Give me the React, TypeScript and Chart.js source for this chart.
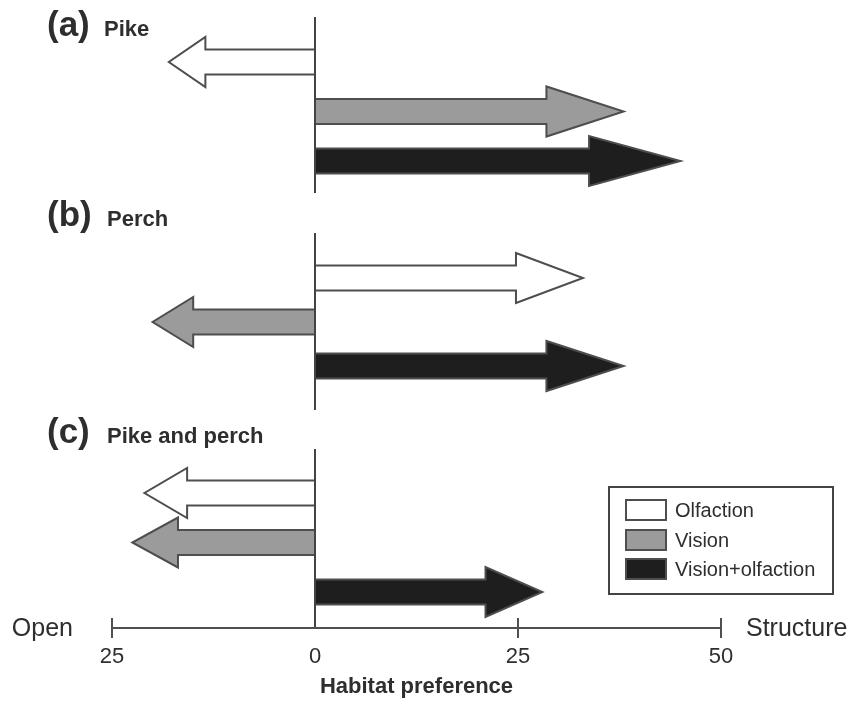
import React, { useEffect, useRef } from 'react';
import { Chart, registerables } from 'chart.js';

Chart.register(...registerables);

// ---------- data ----------
const CUES = ['Olfaction', 'Vision', 'Vision+olfaction'];
const PIKE = [-18, 38, 45];
const PERCH = [33, -20, 38];
const PIKE_AND_PERCH = [-21, -22.5, 28];
const X_TICKS = [-25, 0, 25, 50];
const PANEL_LETTERS = ['(a)', '(b)', '(c)'];
const PANEL_NAMES = ['Pike', 'Perch', 'Pike and perch'];
const PANEL_VALUES = [PIKE, PERCH, PIKE_AND_PERCH];
const AXIS_TITLE = 'Habitat preference';
const LEFT_END_LABEL = 'Open';
const RIGHT_END_LABEL = 'Structure';

// ---------- styles ----------
const FILLS = ['#ffffff', '#9b9b9b', '#1e1e1e'];
const OUTLINE = '#4e4e4e';
const TEXT = '#2e2e2e';
const FONT = '"Liberation Sans", Arial, Helvetica, sans-serif';
const W = 853;
const PLOT_LEFT = 112;
const PLOT_RIGHT = 721;

// page-coordinate layout of each panel
const LAYOUT = [
  { top: 0, height: 200, areaTop: 37.25, areaBottom: 185.75, lineTop: 17, lineBottom: 193, titleY: 36, axis: false },
  { top: 195, height: 220, areaTop: 256, areaBottom: 388, lineTop: 233, lineBottom: 410, titleY: 226, axis: false },
  { top: 415, height: 289, areaTop: 468.25, areaBottom: 616.75, lineTop: 449, lineBottom: 628, titleY: 443, axis: true },
];

const arrowPlugin = {
  id: 'arrows',
  beforeDatasetDraw(chart: any, args: any) {
    const ctx = chart.ctx;
    args.meta.data.forEach((el: any, i: number) => {
      const { x, y, base, height } = el.getProps(['x', 'y', 'base', 'height'], true);
      const len = x - base;
      const hx = x - len * 0.25;
      const s = height / 2;
      const hh = height;
      ctx.save();
      ctx.beginPath();
      ctx.moveTo(base, y - s);
      ctx.lineTo(hx, y - s);
      ctx.lineTo(hx, y - hh);
      ctx.lineTo(x, y);
      ctx.lineTo(hx, y + hh);
      ctx.lineTo(hx, y + s);
      ctx.lineTo(base, y + s);
      ctx.closePath();
      ctx.fillStyle = FILLS[i];
      ctx.fill();
      ctx.lineWidth = 2;
      ctx.lineJoin = 'miter';
      ctx.strokeStyle = OUTLINE;
      ctx.stroke();
      ctx.restore();
    });
    return false;
  },
};

function makeDecorPlugin(p: number) {
  const L = LAYOUT[p];
  return {
    id: 'decor' + p,
    afterDraw(chart: any) {
      const ctx = chart.ctx;
      const xs = chart.scales.x;
      const area = chart.chartArea;
      const x0 = xs.getPixelForValue(0);
      ctx.save();
      // zero line
      ctx.strokeStyle = '#444444';
      ctx.lineWidth = 2;
      ctx.beginPath();
      ctx.moveTo(x0, L.lineTop - L.top);
      ctx.lineTo(x0, L.lineBottom - L.top);
      ctx.stroke();
      // panel title
      ctx.fillStyle = TEXT;
      ctx.textBaseline = 'alphabetic';
      ctx.textAlign = 'left';
      ctx.font = 'bold 35px ' + FONT;
      ctx.fillText(PANEL_LETTERS[p], 47, L.titleY - L.top);
      ctx.font = 'bold 22px ' + FONT;
      ctx.fillText(PANEL_NAMES[p], p === 0 ? 104 : 107, L.titleY - L.top);

      if (L.axis) {
        const ay = L.lineBottom - L.top;
        const xl = xs.getPixelForValue(X_TICKS[0]);
        const xr = xs.getPixelForValue(X_TICKS[X_TICKS.length - 1]);
        ctx.strokeStyle = '#505050';
        ctx.lineWidth = 2;
        ctx.beginPath();
        ctx.moveTo(xl, ay);
        ctx.lineTo(xr, ay);
        X_TICKS.forEach((v) => {
          if (v === 0) return;
          const tx = xs.getPixelForValue(v);
          ctx.moveTo(tx, ay - 10);
          ctx.lineTo(tx, ay + 10);
        });
        ctx.stroke();
        ctx.fillStyle = TEXT;
        ctx.font = '25px ' + FONT;
        ctx.textBaseline = 'middle';
        ctx.textAlign = 'right';
        ctx.fillText(LEFT_END_LABEL, xl - 39, ay + 1);
        ctx.textAlign = 'left';
        ctx.fillText(RIGHT_END_LABEL, xr + 25, ay + 1);

        // legend
        const bx = area.right - 112;
        const by = area.top + 18.75;
        const bw = 224;
        const bh = 107;
        ctx.strokeStyle = '#444444';
        ctx.lineWidth = 2;
        ctx.strokeRect(bx, by, bw, bh);
        const rowY = [23, 53, 82];
        ctx.font = '20px ' + FONT;
        ctx.textBaseline = 'middle';
        ctx.textAlign = 'left';
        CUES.forEach((c, i) => {
          const cy = by + rowY[i];
          ctx.fillStyle = FILLS[i];
          ctx.fillRect(bx + 17, cy - 10, 40, 20);
          ctx.strokeStyle = OUTLINE;
          ctx.lineWidth = 2;
          ctx.strokeRect(bx + 17, cy - 10, 40, 20);
          ctx.fillStyle = TEXT;
          ctx.fillText(c, bx + 66, cy + 1);
        });
      }
      ctx.restore();
    },
  };
}

function Panel({ p }: { p: number }) {
  const ref = useRef<HTMLCanvasElement>(null);
  const L = LAYOUT[p];
  useEffect(() => {
    if (!ref.current) return;
    const padTop = L.areaTop - L.top;
    const areaH = L.areaBottom - L.areaTop;
    const axisH = L.axis ? L.height - padTop - areaH : 0;
    const padBottom = L.axis ? 0 : L.height - (L.areaBottom - L.top);
    const chart = new Chart(ref.current, {
      type: 'bar',
      data: {
        labels: CUES,
        datasets: [
          {
            label: PANEL_NAMES[p],
            data: PANEL_VALUES[p],
            backgroundColor: FILLS,
            borderColor: OUTLINE,
            borderWidth: 2,
            barThickness: 25,
          },
        ],
      },
      options: {
        indexAxis: 'y',
        animation: false,
        responsive: false,
        events: [],
        layout: { padding: { left: PLOT_LEFT, right: W - PLOT_RIGHT, top: padTop, bottom: padBottom } },
        plugins: { legend: { display: false }, tooltip: { enabled: false }, title: { display: false } },
        scales: {
          x: {
            type: 'linear',
            min: X_TICKS[0],
            max: X_TICKS[X_TICKS.length - 1],
            display: L.axis,
            afterBuildTicks: (scale: any) => {
              scale.ticks = X_TICKS.map((v) => ({ value: v }));
            },
            afterFit: (scale: any) => {
              if (L.axis) scale.height = axisH;
            },
            grid: { display: false, drawTicks: false },
            border: { display: false },
            ticks: {
              callback: (v: any) => String(Math.abs(Number(v))),
              font: { family: FONT, size: 22 },
              color: TEXT,
              padding: 27,
              maxRotation: 0,
              autoSkip: false,
            },
            title: {
              display: true,
              text: AXIS_TITLE,
              font: { family: FONT, size: 22, weight: 'bold' },
              color: TEXT,
              padding: { top: 0, bottom: 4 },
            },
          },
          y: { type: 'category', display: false, offset: true },
        },
      },
      plugins: [arrowPlugin, makeDecorPlugin(p)],
    } as any);
    return () => chart.destroy();
  }, [p]);
  return (
    <canvas
      ref={ref}
      width={W}
      height={L.height}
      style={{ position: 'absolute', left: 0, top: L.top, width: W, height: L.height, display: 'block' }}
    />
  );
}

export default function App() {
  return (
    <div style={{ position: 'absolute', left: 0, top: 0, width: W, height: 704, background: '#ffffff', overflow: 'hidden' }}>
      <Panel p={0} />
      <Panel p={1} />
      <Panel p={2} />
    </div>
  );
}
